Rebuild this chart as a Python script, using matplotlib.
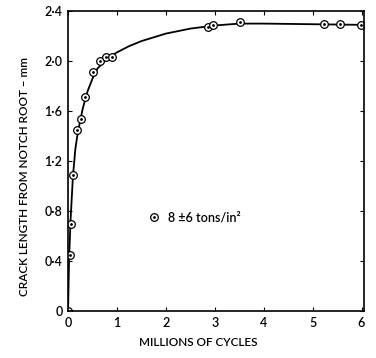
import matplotlib
matplotlib.use("Agg")
import matplotlib.pyplot as plt

# measured points (millions of cycles, crack length mm)
cycles = [0.0, 0.03, 0.05, 0.10, 0.19, 0.26, 0.35, 0.51, 0.65, 0.77, 0.90,
          2.86, 2.96, 3.51, 5.23, 5.56, 5.99]
crack = [0.0, 0.45, 0.70, 1.09, 1.45, 1.54, 1.71, 1.91, 2.00, 2.03, 2.03,
         2.27, 2.29, 2.31, 2.30, 2.30, 2.29]

# hand-drawn mean curve
curve_x = [0.0, 0.02, 0.05, 0.10, 0.15, 0.20, 0.30, 0.40, 0.50, 0.60, 0.80, 1.0,
           1.25, 1.5, 2.0, 2.5, 3.0, 3.5, 4.0, 5.0, 6.0]
curve_y = [0.0, 0.40, 0.72, 1.08, 1.30, 1.43, 1.62, 1.76, 1.86, 1.94, 2.02, 2.07,
           2.12, 2.16, 2.22, 2.26, 2.285, 2.30, 2.30, 2.295, 2.29]

xticks = [0, 1, 2, 3, 4, 5, 6]
yticks = [0, 0.4, 0.8, 1.2, 1.6, 2.0, 2.4]
ytick_labels = ["0", "0·4", "0·8", "1·2", "1·6", "2·0", "2·4"]

plt.rcParams['font.family'] = ['Lato', 'DejaVu Sans']

fig = plt.figure(figsize=(3.76, 3.58), dpi=100)
ax = fig.add_axes([0.181, 0.131, 0.787, 0.838])

ax.plot(curve_x, curve_y, color='black', linewidth=1.3)
ax.plot(cycles, crack, 'o', markersize=5.5, markerfacecolor='white',
        markeredgecolor='black', markeredgewidth=0.9)
ax.plot(cycles, crack, '.', markersize=2, color='black')

# key
ax.plot([1.76], [0.75], 'o', markersize=5.5, markerfacecolor='white',
        markeredgecolor='black', markeredgewidth=0.9)
ax.plot([1.76], [0.75], '.', markersize=2, color='black')
ax.text(2.05, 0.75, "8 ±6 tons/in²", fontsize=9, va='center', fontweight='semibold')

ax.set_xlim(0, 6.05)
ax.set_ylim(0, 2.4)
ax.set_xticks(xticks)
ax.set_yticks(yticks)
ax.set_yticklabels(ytick_labels)
ax.tick_params(direction='in', top=True, right=True, length=3, labelsize=9, pad=4)
for lab in ax.get_xticklabels() + ax.get_yticklabels():
    lab.set_fontweight('semibold')
for s in ax.spines.values():
    s.set_linewidth(1.2)

ax.set_xlabel("MILLIONS OF CYCLES", fontsize=8.5, fontweight='semibold')
ax.set_ylabel("CRACK LENGTH FROM NOTCH ROOT – mm", fontsize=8.5, fontweight='semibold')
ax.xaxis.set_label_coords(0.44, -0.085)
ax.yaxis.set_label_coords(-0.13, 0.45)

fig.savefig("out.png", dpi=100)
